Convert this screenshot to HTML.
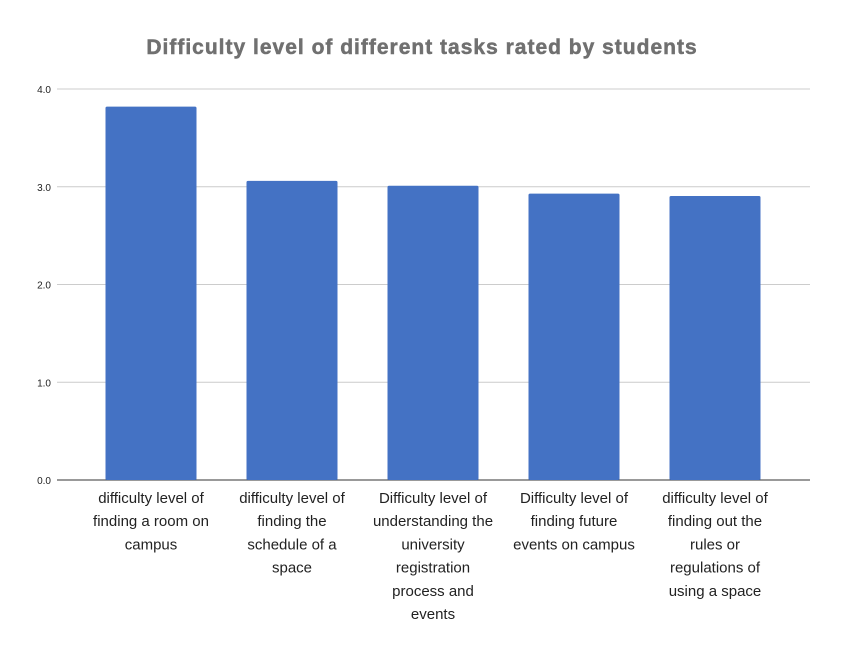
<!DOCTYPE html>
<html><head><meta charset="utf-8"><style>
body{margin:0;background:#fff;}
svg{display:block;font-family:"Liberation Sans",Arial,sans-serif;}
</style></head><body>
<svg id="chart" width="843" height="656">
<text x="422" y="54" text-anchor="middle" font-size="21" font-weight="bold" letter-spacing="1" fill="#707070" stroke="#707070" stroke-width="0.5">Difficulty level of different tasks rated by students</text>
<g id="grid"></g><g id="bars"></g><g id="labels"></g>
</svg>
<script>
const categories=[["difficulty level of","finding a room on","campus"],["difficulty level of","finding the","schedule of a","space"],["Difficulty level of","understanding the","university","registration","process and","events"],["Difficulty level of","finding future","events on campus"],["difficulty level of","finding out the","rules or","regulations of","using a space"]];
const values=[3.82,3.06,3.01,2.93,2.905];
const ticks=[0,1,2,3,4];
const tickLabels=["0.0","1.0","2.0","3.0","4.0"];
const NS="http://www.w3.org/2000/svg";
const x0=57,x1=810,y0=480,y1=89,ymax=4;
const bandStart=80.5,cw=141;
const y=v=>y0-(v/ymax)*(y0-y1);
const bw=91;
function mk(t,a,p){const e=document.createElementNS(NS,t);for(const k in a)e.setAttribute(k,a[k]);p.appendChild(e);return e;}
const grid=document.getElementById('grid'),bars=document.getElementById('bars'),labels=document.getElementById('labels');
ticks.forEach((t,i)=>{
const l=mk('line',{x1:x0,x2:x1,y1:y(t),y2:y(t),stroke:t===0?'#333':'#ccc','stroke-width':1},grid);


const tx=mk('text',{x:51,y:y(t)+4,'text-anchor':'end','font-size':10,fill:'#222'},grid);
tx.textContent=tickLabels[i];


});
values.forEach((v,i)=>{
const cx=bandStart+cw*(i+0.5);
const r=mk('rect',{x:cx-bw/2,y:y(v),width:bw,height:y0-y(v),fill:'#4472c4',rx:1.5},bars);


const t=mk('text',{x:cx,'text-anchor':'middle','font-size':15,fill:'#222'},labels);


categories[i].forEach((s,j)=>{const ts=mk('tspan',{x:cx,y:503+j*23.2},t);ts.textContent=s;});
});
</script>
</body></html>
